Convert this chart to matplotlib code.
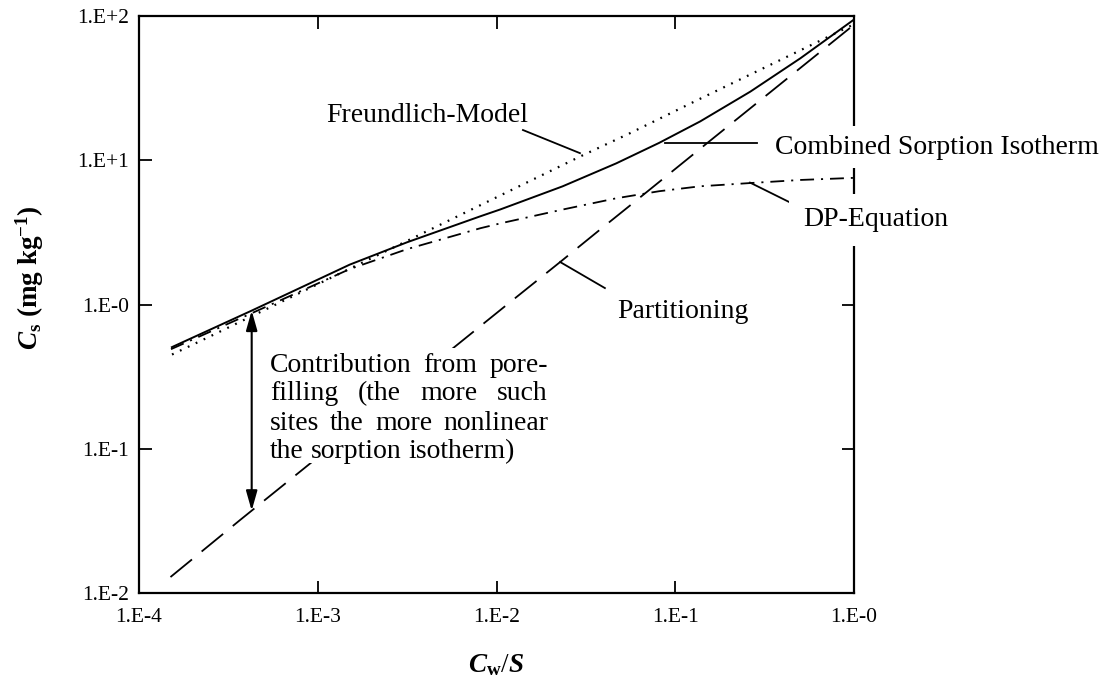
import matplotlib
matplotlib.use('Agg')
import matplotlib.pyplot as plt
from matplotlib.ticker import NullLocator
from matplotlib.patches import Rectangle

plt.rcParams['font.family'] = ['Liberation Serif', 'DejaVu Serif']
plt.rcParams['mathtext.fontset'] = 'custom'
plt.rcParams['mathtext.rm'] = 'Liberation Serif'
plt.rcParams['mathtext.it'] = 'Liberation Serif:italic'
plt.rcParams['mathtext.bf'] = 'Liberation Serif:bold'
plt.rcParams['mathtext.bfit'] = 'Liberation Serif:italic:bold'
plt.rcParams['lines.scale_dashes'] = False

# ---------------- data ----------------
x_combined = [1.51e-4, 4.27e-4, 1.51e-3, 3.16e-3, 8.13e-3, 1.05e-2, 2.34e-2,
              4.68e-2, 8.13e-2, 0.138, 0.263, 0.501, 1.0]
y_combined = [0.503, 0.907, 1.89, 2.70, 4.09, 4.56, 6.59,
              9.52, 13.2, 18.6, 29.9, 50.9, 94.5]

x_freundlich = [1.53e-4, 2.49e-4, 3.16e-3, 1.05e-2, 2.93e-2, 5.58e-2, 0.137, 0.326, 0.621, 1.0]
y_freundlich = [0.45, 0.60, 2.76, 5.7, 10.6, 15.4, 26.6, 44.7, 65.8, 87.7]

x_dp = [1.51e-4, 4.27e-4, 1.51e-3, 3.16e-3, 8.13e-3, 1.05e-2, 2.34e-2,
        4.68e-2, 8.13e-2, 0.138, 0.263, 0.501, 1.0]
y_dp = [0.49, 0.87, 1.76, 2.42, 3.38, 3.65, 4.55,
        5.45, 6.10, 6.60, 6.95, 7.30, 7.55]

x_partition = [1.5e-4, 3.67e-4, 1.09e-2, 2.27e-2, 3.79e-2, 6.35e-2, 0.156, 0.326, 0.764, 1.0]
y_partition = [0.0129, 0.032, 0.95, 1.97, 3.30, 5.52, 13.6, 28.4, 66.5, 87.0]

x_ticks = [1e-4, 1e-3, 1e-2, 1e-1, 1e0]
x_tick_labels = ['1.E-4', '1.E-3', '1.E-2', '1.E-1', '1.E-0']
y_ticks = [1e-2, 1e-1, 1e0, 1e1, 1e2]
y_tick_labels = ['1.E-2', '1.E-1', '1.E-0', '1.E+1', '1.E+2']

# arrow: pore-filling contribution at this Cw/S
arrow_x = 4.27e-4
arrow_low = 0.0372
arrow_high = 0.907

contrib_lines = ['Contribution from pore-', 'filling (the more such',
                 'sites the more nonlinear', 'the sorption isotherm)']

# ---------------- figure ----------------
W, H = 1104, 680
fig = plt.figure(figsize=(W / 100, H / 100), dpi=100)
L, R, T, B = 139, 854, 16, 593
ax = fig.add_axes([L / W, (H - B) / H, (R - L) / W, (B - T) / H])
ax.set_xscale('log')
ax.set_yscale('log')
ax.set_xlim(1e-4, 1)
ax.set_ylim(1e-2, 1e2)


def afx(px):
    return (px - L) / (R - L)


def afy(py):
    return (B - py) / (B - T)


k = 'black'
ax.plot(x_combined, y_combined, color=k, lw=1.4, solid_capstyle='butt')
ax.plot(x_freundlich, y_freundlich, color=k, lw=1.6, linestyle=(0, (1.3, 5.0)))
ax.plot(x_dp, y_dp, color=k, lw=1.3, linestyle=(0, (10, 5, 1.5, 5)))
ax.plot(x_partition, y_partition, color=k, lw=1.3, linestyle=(0, (20, 9)))

# double arrow
ax.annotate('', xy=(arrow_x, arrow_high), xytext=(arrow_x, arrow_low),
            arrowprops=dict(arrowstyle='<|-|>,head_length=0.6,head_width=0.17',
                            mutation_scale=20, color=k, lw=1.5,
                            shrinkA=0, shrinkB=0))

# leader lines + labels
fs_lab = 20
ax.plot([0.01406, 0.0293], [16.2, 11.2], color=k, lw=1.3)
ax.text(afx(427), afy(115), 'Freundlich-Model', transform=ax.transAxes,
        fontsize=fs_lab, ha='center', va='center')

ax.plot([0.0877, 0.286], [13.2, 13.2], color=k, lw=1.3)
ax.text(afx(775), afy(147), 'Combined Sorption Isotherm', transform=ax.transAxes,
        fontsize=fs_lab, ha='left', va='center', clip_on=False, zorder=5,
        bbox=dict(facecolor='white', edgecolor='none', pad=6))

ax.plot([0.262, 0.468], [7.0, 4.90], color=k, lw=1.3)
ax.text(afx(803), afy(220), 'DP-Equation', transform=ax.transAxes,
        fontsize=fs_lab, ha='left', va='center', clip_on=False, zorder=5,
        bbox=dict(facecolor='white', edgecolor='none', pad=10))

ax.plot([0.0227, 0.0404], [1.97, 1.30], color=k, lw=1.3)
ax.text(afx(617), afy(312), 'Partitioning', transform=ax.transAxes,
        fontsize=fs_lab, ha='left', va='center')

# ticks and spines
ax.set_xticks(x_ticks, labels=x_tick_labels)
ax.set_yticks(y_ticks, labels=y_tick_labels)
ax.xaxis.set_minor_locator(NullLocator())
ax.yaxis.set_minor_locator(NullLocator())
ax.tick_params(which='major', direction='in', length=9, width=1.3,
               top=True, right=True, labelsize=15.5, colors=k)
ax.tick_params(axis='x', pad=11)
ax.tick_params(axis='y', pad=7)
for s in ax.spines.values():
    s.set_linewidth(1.6)
    s.set_color(k)

ax.set_xlabel(r'$\mathbfit{C}_{\mathbf{w}}/\mathbfit{S}$', fontsize=19.5)
ax.xaxis.set_label_coords(0.5, afy(652))
ax.set_ylabel(r'$\mathbfit{C}_{\mathbf{s}}$ (mg kg$^{\mathbf{-1}}$)', fontsize=19.5,
              fontweight='bold')
ax.yaxis.set_label_coords(afx(46), afy(278))

# justified multi-line annotation, placed word by word
ax.add_patch(Rectangle((afx(262), afy(463)), afx(552) - afx(262), afy(348) - afy(463),
                       transform=ax.transAxes, facecolor='white', edgecolor='none',
                       zorder=2.6))
fig.canvas.draw()
rend = fig.canvas.get_renderer()
axw = ax.get_window_extent(rend).width
x_left = afx(270)
x_right = afx(548)
line_y = [362, 391, 420, 449]
space_t = ax.text(0, 0, 'a a', fontsize=fs_lab, transform=ax.transAxes)
aa_t = ax.text(0, 0, 'aa', fontsize=fs_lab, transform=ax.transAxes)
space_w = (space_t.get_window_extent(rend).width - aa_t.get_window_extent(rend).width) / axw
space_t.remove()
aa_t.remove()
for i, line in enumerate(contrib_lines):
    words = line.split()
    texts = [ax.text(0, afy(line_y[i]), w, transform=ax.transAxes, fontsize=fs_lab,
                     ha='left', va='center_baseline', zorder=3) for w in words]
    widths = [t.get_window_extent(rend).width / axw for t in texts]
    if i < len(contrib_lines) - 1:
        gap = (x_right - x_left - sum(widths)) / (len(words) - 1)
    else:
        gap = space_w
    xp = x_left
    for t, wd in zip(texts, widths):
        t.set_x(xp)
        xp += wd + gap

fig.savefig('out.png', dpi=100)
